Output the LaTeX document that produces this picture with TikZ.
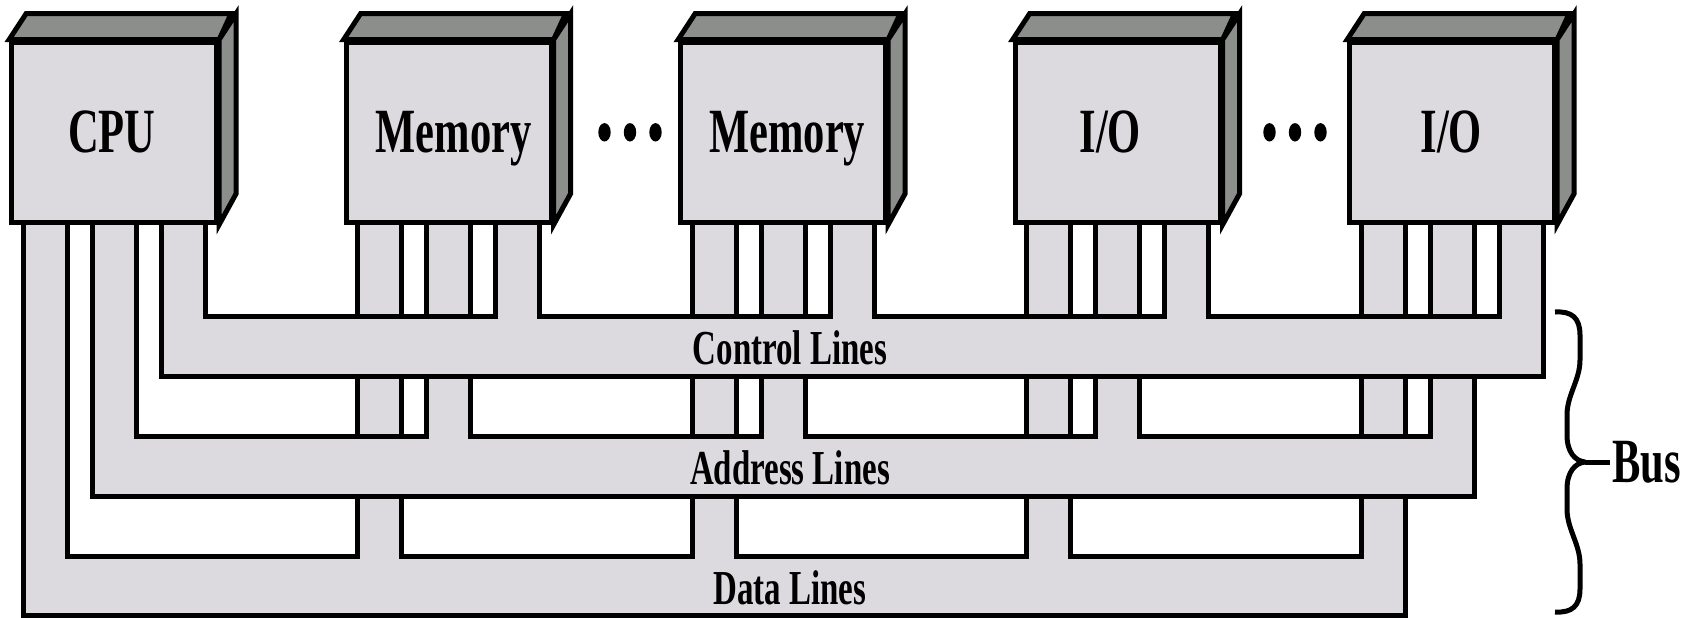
\documentclass[tikz,border=0pt]{standalone}
\usepackage{fontspec}
\setmainfont{Liberation Serif}
\usepackage{graphicx}

\definecolor{bodygray}{RGB}{220,218,222}
\definecolor{facegray}{RGB}{140,142,140}

% narrow, tall lettering
\newcommand\squeeze[1]{\scalebox{0.675}[1]{#1}}
\newcommand\modfont{\fontsize{31.5pt}{36pt}\selectfont\bfseries}
\newcommand\lblfont{\fontsize{24.4pt}{28pt}\selectfont\bfseries}

% top and side faces of a module block
\newcommand\boxfaces[1]{%
  \filldraw[face] (#1.north west) -- ++(17,-26) -- ++(205,0) -- (#1.north east) -- cycle;
  \filldraw[face] (#1.north east) -- ++(17,-26) -- ++(0,180) -- (#1.south east) -- cycle;}

\begin{document}
\begin{tikzpicture}[x=0.5pt, y=-0.5pt, line width=2.5pt,
  bus/.style={draw=black, fill=bodygray, line join=miter},
  face/.style={draw=black, fill=facegray, line join=miter},
  module/.style={draw=black, fill=bodygray, rectangle, line join=miter,
    minimum width=102.5pt, minimum height=90pt, inner sep=0pt,
    text height=20.8pt, text depth=0pt, font=\modfont},
  buslabel/.style={anchor=base, inner sep=0pt, font=\lblfont},
  dot/.style={fill=black}]
\useasboundingbox (0,0) rectangle (1682,617);

% the three bus bands, each with its pins rising to the five modules
% k = 0 data, 1 address, 2 control; module m starts at 11.7+334.5m
\foreach \k/\T/\B in {0/556/615, 1/436/496, 2/316/376}{
  \draw[bus] ({23.2+69*\k},222) -- ({23.2+69*\k},\B)
    -- ({23.2+4*334.5+69*\k+44},\B) -- ({23.2+4*334.5+69*\k+44},222)
    \foreach \m in {4,3,2,1}{
      -- ({23.2+\m*334.5+69*\k},222) -- ({23.2+\m*334.5+69*\k},\T)
      -- ({23.2+(\m-1)*334.5+69*\k+44},\T) -- ({23.2+(\m-1)*334.5+69*\k+44},222)
    } -- cycle;
}

% modules
\node[module] (cpu)  at (114.2,132)  {\squeeze{CPU}\hspace*{2.5pt}};
\node[module] (memA) at (448.7,132)  {\hspace*{5pt}\squeeze{Memory}};
\node[module] (memB) at (783.2,132)  {\hspace*{4pt}\squeeze{Memory}};
\node[module] (ioA)  at (1117.7,132) {\squeeze{I/O}\hspace*{7.5pt}};
\node[module] (ioB)  at (1452.2,132) {\squeeze{I/O}\hspace*{1pt}};
\boxfaces{cpu}
\boxfaces{memA}
\boxfaces{memB}
\boxfaces{ioA}
\boxfaces{ioB}

% ellipsis dots between repeated modules
\foreach \x in {604.5,630,655.5,1269.5,1295,1320.5}
  \fill[dot] (\x,132.3) ellipse [x radius=3.1pt, y radius=4.6pt];

% band labels
\node[buslabel] (ctl) at (790,364.5) {\squeeze{Control Lines}};
\node[buslabel] (adr) at (790,484.5) {\squeeze{Address Lines}};
\node[buslabel] (dat) at (790,604.5) {\squeeze{Data Lines}};

% brace grouping the bands
\coordinate (tip) at (1585,462);
\draw[line join=round] (1555,312) .. controls (1572,311) and (1580,318) .. (1580,335)
  -- (1580,360) .. controls (1580,380) and (1567,395) .. (1567,415)
  -- (1567,435) .. controls (1567,452) and (1575,461) .. (tip)
  .. controls (1575,463) and (1567,472) .. (1567,489)
  -- (1567,509) .. controls (1567,529) and (1580,544) .. (1580,564)
  -- (1580,589) .. controls (1580,606) and (1572,613) .. (1555,612);
\node[anchor=base west, inner sep=0pt, font=\modfont] (bus) at (1610,482) {\squeeze{Bus}};
\draw (tip) -- (tip -| bus.west);
\end{tikzpicture}
\end{document}
